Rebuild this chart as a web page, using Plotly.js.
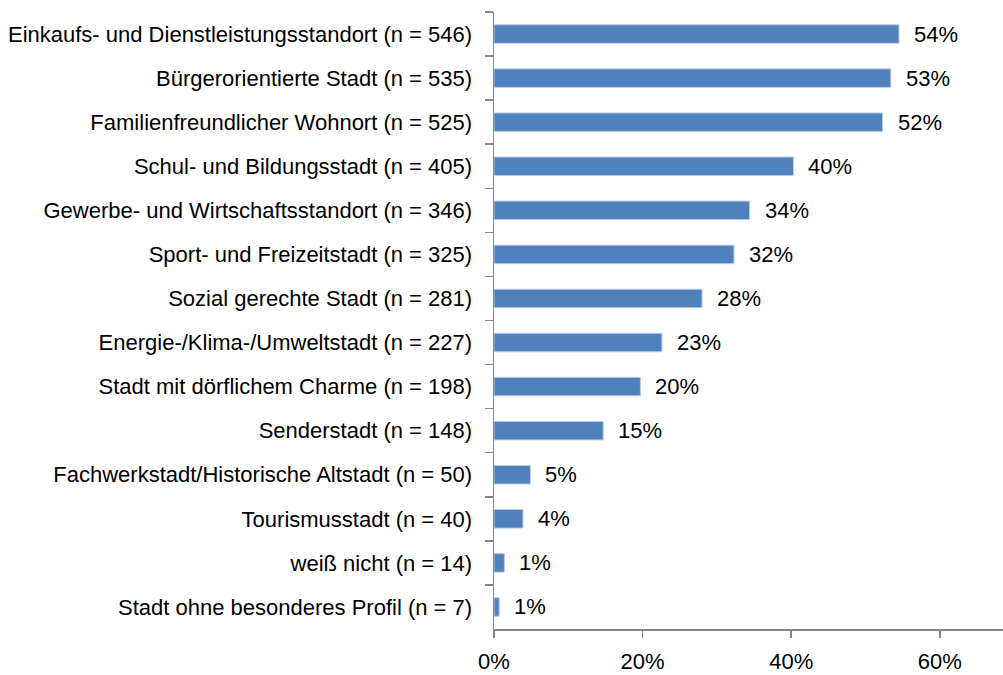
<!DOCTYPE html>
<html>
<head>
<meta charset="utf-8">
<script src="https://cdn.plot.ly/plotly-3.0.1.min.js"></script>
<style>
html,body{margin:0;padding:0;background:#fff;}
#chart{width:1003px;height:675px;}
</style>
</head>
<body>
<div id="chart"></div>
<script>
const categories = [
  "Einkaufs- und Dienstleistungsstandort (n = 546)",
  "Bürgerorientierte Stadt (n = 535)",
  "Familienfreundlicher Wohnort (n = 525)",
  "Schul- und Bildungsstadt (n = 405)",
  "Gewerbe- und Wirtschaftsstandort (n = 346)",
  "Sport- und Freizeitstadt (n = 325)",
  "Sozial gerechte Stadt (n = 281)",
  "Energie-/Klima-/Umweltstadt (n = 227)",
  "Stadt mit dörflichem Charme (n = 198)",
  "Senderstadt (n = 148)",
  "Fachwerkstadt/Historische Altstadt (n = 50)",
  "Tourismusstadt (n = 40)",
  "weiß nicht (n = 14)",
  "Stadt ohne besonderes Profil (n = 7)"
];
const values = [54.5, 53.4, 52.3, 40.3, 34.4, 32.3, 28.0, 22.6, 19.7, 14.7, 4.9, 3.9, 1.4, 0.7];
const valueLabels = ["54%", "53%", "52%", "40%", "34%", "32%", "28%", "23%", "20%", "15%", "5%", "4%", "1%", "1%"];
const tickVals = [0, 20, 40, 60];
const tickText = ["0%", "20%", "40%", "60%"];

const FONT = "'Liberation Sans Narrow', 'Arial Narrow', 'Liberation Sans', Arial, sans-serif";
const AXIS = "#868686";

const trace = {
  type: "bar",
  orientation: "h",
  x: values,
  y: categories,
  marker: {color: "#4F81BD", line: {color: "#B9CDE5", width: 1}},
  width: 0.42,
  hoverinfo: "none"
};

const annotations = values.map((v, i) => ({
  x: v, y: categories[i], xref: "x", yref: "y",
  text: valueLabels[i], showarrow: false,
  xanchor: "left", yanchor: "middle", xshift: 13,
  font: {family: FONT, size: 22, color: "#000"}
}));

const layout = {
  width: 1003, height: 675,
  margin: {l: 494, r: 0, t: 12, b: 46},
  paper_bgcolor: "#fff", plot_bgcolor: "#fff",
  showlegend: false,
  font: {family: FONT, color: "#000"},
  xaxis: {
    range: [0, 68.5],
    tickvals: tickVals, ticktext: tickText,
    ticks: "outside", ticklen: 7, tickcolor: AXIS, tickwidth: 1.5,
    showline: true, linecolor: AXIS, linewidth: 1.5,
    showgrid: false, zeroline: false,
    tickfont: {family: FONT, size: 22, color: "#000"},
    ticklabelstandoff: 5,
    fixedrange: true
  },
  yaxis: {
    type: "category",
    autorange: "reversed",
    categoryorder: "array", categoryarray: categories,
    ticks: "outside", ticklen: 8, tickcolor: AXIS, tickwidth: 1.5,
    tickson: "boundaries",
    showline: true, linecolor: AXIS, linewidth: 1.5,
    showgrid: false, zeroline: false,
    tickfont: {family: FONT, size: 22, color: "#000"},
    ticklabelstandoff: 16,
    fixedrange: true
  },
  annotations: annotations
};

Plotly.newPlot("chart", [trace], layout, {displayModeBar: false, staticPlot: true});
</script>
</body>
</html>
